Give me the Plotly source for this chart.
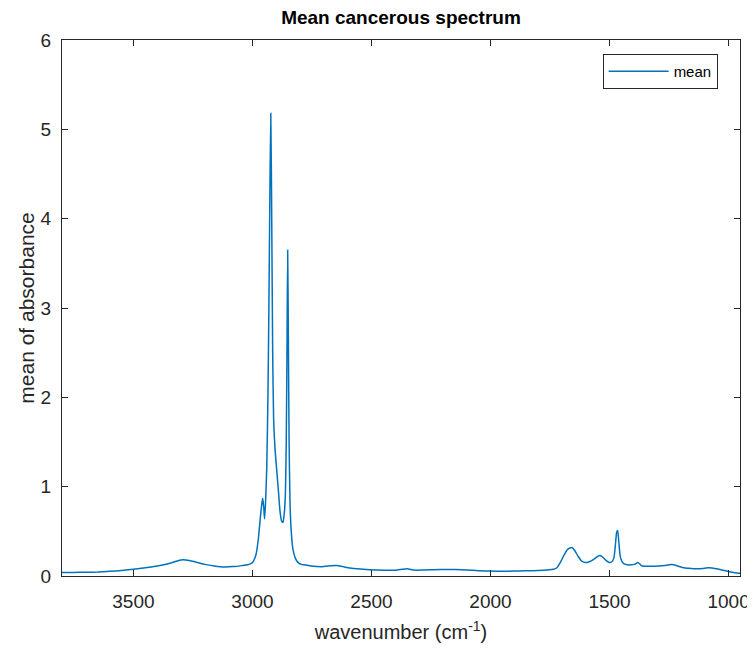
import plotly.graph_objects as go

# wavenumber (cm^-1) and mean absorbance
wavenumber = [
    3800, 3750, 3700, 3650, 3600, 3550, 3500, 3450, 3400, 3350, 3320, 3300, 3280,
    3260, 3230, 3200, 3160, 3120, 3080, 3040, 3020, 3005, 2995, 2985, 2975, 2967,
    2961, 2957, 2953, 2949, 2945, 2940, 2935, 2931, 2927, 2923, 2919, 2915, 2911,
    2905, 2897, 2890, 2884, 2878, 2872, 2867, 2862, 2858, 2855, 2852, 2849, 2846,
    2842, 2837, 2830, 2820, 2810, 2795, 2780, 2760, 2730, 2700, 2670, 2646, 2620,
    2590, 2560, 2506, 2450, 2400, 2370, 2350, 2320, 2280, 2212, 2150, 2100, 2050,
    2000, 1950, 1900, 1860, 1800, 1760, 1735, 1720, 1705, 1690, 1675, 1657, 1645,
    1632, 1618, 1600, 1585, 1565, 1550, 1540, 1528, 1515, 1500, 1490, 1482, 1476,
    1470, 1466, 1461, 1455, 1448, 1438, 1425, 1410, 1395, 1382, 1375, 1365, 1340,
    1310, 1280, 1255, 1240, 1230, 1215, 1190, 1160, 1136, 1110, 1085, 1070, 1050,
    1024, 1000, 980, 960, 952,
]
absorbance = [
    0.040, 0.040, 0.042, 0.045, 0.052, 0.062, 0.075, 0.092, 0.112, 0.140, 0.165, 0.180, 0.180,
    0.170, 0.150, 0.130, 0.112, 0.100, 0.105, 0.118, 0.125, 0.140, 0.170, 0.240, 0.420, 0.650,
    0.800, 0.870, 0.780, 0.640, 0.820, 1.200, 2.000, 3.000, 4.200, 5.180, 4.000, 2.500, 1.750,
    1.420, 1.150, 0.920, 0.720, 0.620, 0.600, 0.680, 0.900, 1.500, 2.500, 3.650, 2.600, 1.500,
    0.800, 0.500, 0.300, 0.200, 0.155, 0.130, 0.125, 0.115, 0.106, 0.105, 0.115, 0.118, 0.105,
    0.090, 0.080, 0.070, 0.065, 0.065, 0.075, 0.080, 0.066, 0.068, 0.073, 0.072, 0.068, 0.060,
    0.055, 0.053, 0.055, 0.058, 0.062, 0.068, 0.075, 0.095, 0.160, 0.240, 0.300, 0.320, 0.280,
    0.220, 0.170, 0.150, 0.160, 0.190, 0.220, 0.230, 0.210, 0.175, 0.150, 0.160, 0.200, 0.330,
    0.490, 0.510, 0.380, 0.220, 0.165, 0.135, 0.125, 0.125, 0.130, 0.150, 0.140, 0.115, 0.108,
    0.110, 0.114, 0.122, 0.130, 0.127, 0.112, 0.093, 0.085, 0.080, 0.085, 0.092, 0.090, 0.080,
    0.065, 0.050, 0.038, 0.032, 0.030,
]

x_ticks = [3500, 3000, 2500, 2000, 1500, 1000]
y_ticks = [0, 1, 2, 3, 4, 5, 6]

axis_color = "#262626"
font_family = "Liberation Sans, Arial, Helvetica, sans-serif"

fig = go.Figure()
fig.add_trace(go.Scatter(
    x=wavenumber, y=absorbance, mode="lines", name="mean",
    line=dict(color="#0072BD", width=1.5, shape="spline", smoothing=0.6),
))

fig.update_layout(
    width=755, height=651,
    paper_bgcolor="white", plot_bgcolor="white",
    margin=dict(l=54, r=23, t=32, b=83),
    font=dict(family=font_family, color=axis_color, size=19),
    title=dict(text="<b>Mean cancerous spectrum</b>", x=0.5, xanchor="center",
               xref="paper", y=0.985, yanchor="middle",
               font=dict(size=19, color="black", family=font_family)),
    showlegend=True,
    legend=dict(x=0.967, y=0.974, xanchor="right", yanchor="top",
                bordercolor="#262626", borderwidth=1, bgcolor="white",
                font=dict(size=15, color="black"), itemwidth=60,
                tracegroupgap=0),
)
fig.update_xaxes(
    range=[3800, 952], tickvals=x_ticks, ticks="inside", ticklen=6,
    tickcolor=axis_color, showline=True, linecolor=axis_color, linewidth=1,
    mirror="ticks", showgrid=False, zeroline=False,
    title=dict(text="wavenumber (cm<sup>-1</sup>)", font=dict(size=20), standoff=14),
    tickfont=dict(size=19), ticklabelstandoff=8,
)
fig.update_yaxes(
    range=[0, 6], tickvals=y_ticks, ticks="inside", ticklen=6,
    tickcolor=axis_color, showline=True, linecolor=axis_color, linewidth=1,
    mirror="ticks", showgrid=False, zeroline=False,
    title=dict(text="mean of absorbance", font=dict(size=21), standoff=0),
    tickfont=dict(size=19), ticklabelstandoff=6,
)

fig.write_html("out.html")
